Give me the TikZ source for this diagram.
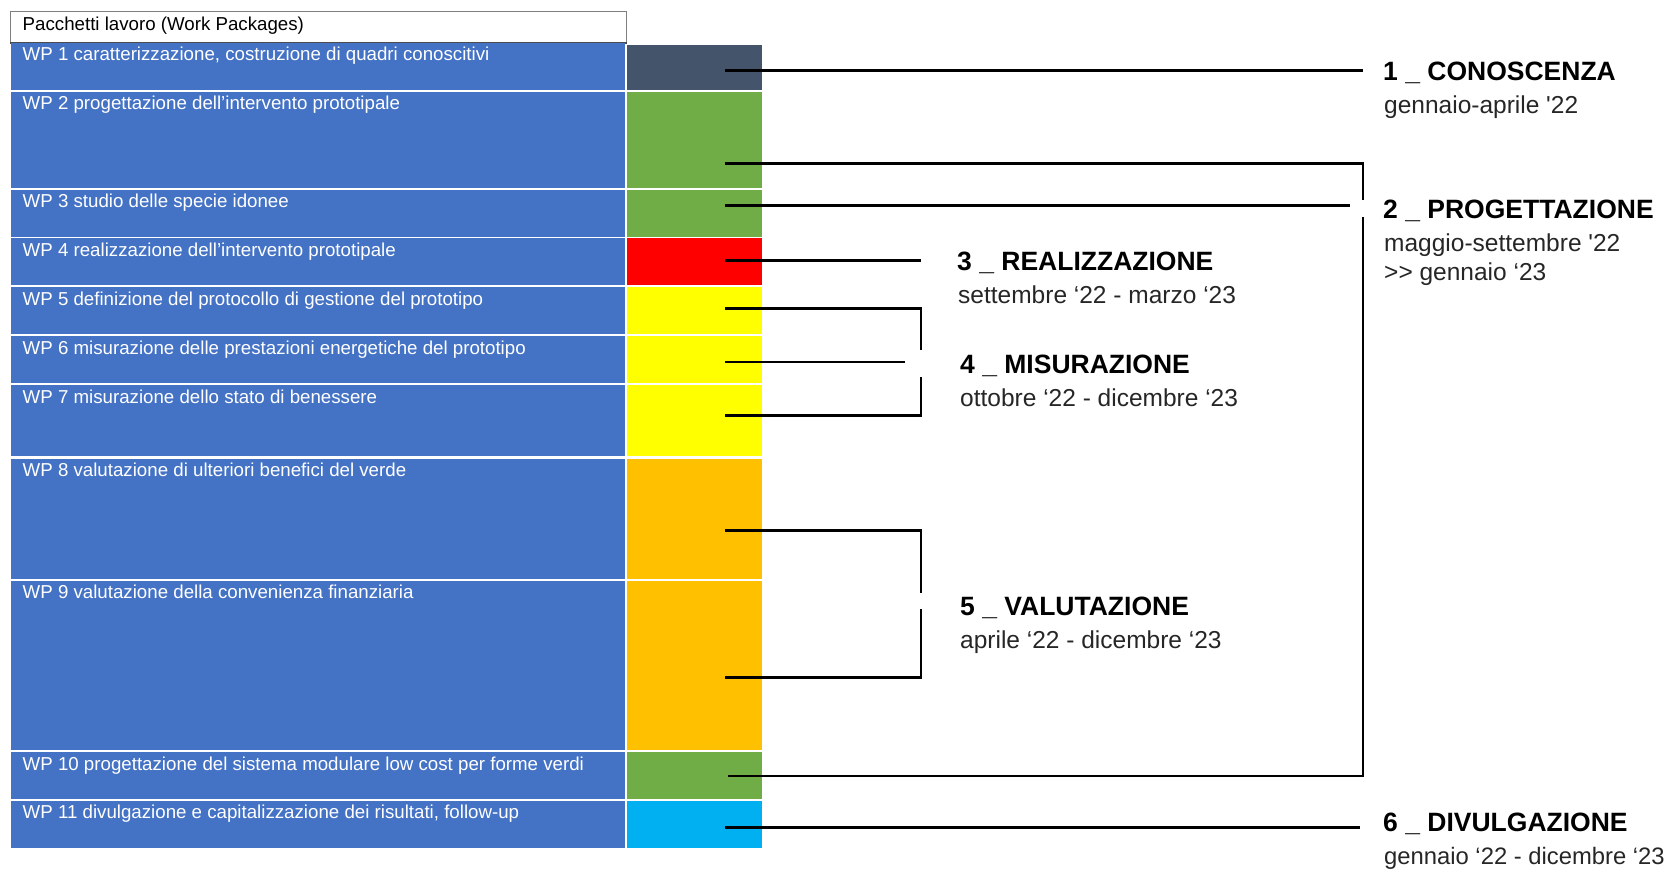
\documentclass[tikz,border=0pt]{standalone}
\usepackage{fontspec}
\setmainfont{Liberation Sans}
\usetikzlibrary{calc}
\definecolor{wpblue}{HTML}{4472C4}
\definecolor{cdark}{HTML}{44546A}
\definecolor{cgreen}{HTML}{70AD47}
\definecolor{cred}{HTML}{FF0000}
\definecolor{cyellow}{HTML}{FFFF00}
\definecolor{corange}{HTML}{FFC000}
\definecolor{ccyan}{HTML}{00B0F0}
\definecolor{hdrline}{HTML}{7F7F7F}
\tikzset{
  wpcell/.style={fill=wpblue, draw=none, inner sep=0pt, anchor=north west, minimum width=614pt},
  colcell/.style={draw=none, inner sep=0pt, anchor=north west, minimum width=135pt},
  wptext/.style={inner sep=0pt, anchor=base west, text=white, font=\fontsize{18.7}{22}\selectfont},
  hdrtext/.style={inner sep=0pt, anchor=base west, text=black, font=\fontsize{18.7}{22}\selectfont},
  ttl/.style={inner sep=0pt, anchor=base west, text=black, font=\fontsize{26.5}{30}\selectfont\bfseries},
  sub/.style={inner sep=0pt, anchor=base west, text=black!85, font=\fontsize{24.5}{30}\selectfont},
  conn/.style={draw=black, line width=2.6pt, line join=miter}
}
\begin{document}
\begin{tikzpicture}[x=1pt,y=-1pt]
\useasboundingbox (0,0) rectangle (1667,870);
% header
\node[draw=hdrline, line width=1.3pt, fill=white, inner sep=0pt, anchor=north west,
      minimum width=616pt, minimum height=31pt] (hdr) at (10,10.7) {};
\draw[black!70, line width=1.3pt] (hdr.south west) -- (hdr.south east);
\node[hdrtext] (hdrt) at (22.5,30) {Pacchetti lavoro (Work Packages)};
% rows: index/top/height/colour top/colour height/color/text
\foreach \i/\t/\h/\ct/\ch/\c/\txt in {
  1/42.5/47.5/44.3/45.7/cdark/{WP 1 caratterizzazione, costruzione di quadri conoscitivi},
  2/91.7/95.8/91.7/95.8/cgreen/{WP 2 progettazione dell’intervento prototipale},
  3/189.3/47/189.3/47/cgreen/{WP 3 studio delle specie idonee},
  4/238/47/238/47/cred/{WP 4 realizzazione dell’intervento prototipale},
  5/287/47/287/47/cyellow/{WP 5 definizione del protocollo di gestione del prototipo},
  6/336/47/336/47/cyellow/{WP 6 misurazione delle prestazioni energetiche del prototipo},
  7/385/71/385/71/cyellow/{WP 7 misurazione dello stato di benessere},
  8/458.3/120/458.3/120/corange/{WP 8 valutazione di ulteriori benefici del verde},
  9/580.5/169.5/580.5/169.5/corange/{WP 9 valutazione della convenienza finanziaria},
  10/752/47/752/47/cgreen/{WP 10 progettazione del sistema modulare low cost per forme verdi},
  11/800.7/46.6/800.7/46.6/ccyan/{WP 11 divulgazione e capitalizzazione dei risultati, follow-up}}{
  \node[wpcell, minimum height=\h pt] (w\i) at (11,\t) {};
  \node[colcell, fill=\c, minimum height=\ch pt] (c\i) at (627,\ct) {};
  \node[wptext] (t\i) at (22.5,\t+18) {\txt};
}
% labels
\node[ttl] (l1) at (1383,80) {1 \_ CONOSCENZA};
\node[sub] (l1d) at (1384,113.5) {gennaio-aprile \textquotesingle22};
\node[ttl] (l2) at (1383,218) {2 \_ PROGETTAZIONE};
\node[sub] (l2d) at (1384,251) {maggio-settembre \textquotesingle22};
\node[sub] (l2e) at (1384,280) {>{}> gennaio ‘23};
\node[ttl] (l3) at (957,270.5) {3 \_ REALIZZAZIONE};
\node[sub] (l3d) at (958,303.5) {settembre ‘22 - marzo ‘23};
\node[ttl] (l4) at (960,373) {4 \_ MISURAZIONE};
\node[sub] (l4d) at (960,406.5) {ottobre ‘22 - dicembre ‘23};
\node[ttl] (l5) at (960,615) {5 \_ VALUTAZIONE};
\node[sub] (l5d) at (960,648.5) {aprile ‘22 - dicembre ‘23};
\node[ttl] (l6) at (1383,831.5) {6 \_ DIVULGAZIONE};
\node[sub, font=\fontsize{23.8}{30}\selectfont] (l6d) at (1384,864) {gennaio ‘22 - dicembre ‘23};
% connector points
\coordinate (s1) at (725,70.7);   \coordinate (e1) at (1363,70.7);
\coordinate (s2) at (725,163.3);  \coordinate (k2a) at (1363,163.3); \coordinate (k2b) at (1363,200);
\coordinate (k2c) at (1363,217);  \coordinate (k2d) at (1363,776);  \coordinate (s10) at (728,776);
\coordinate (s3) at (725,205.7);  \coordinate (e3) at (1350,205.7);
\coordinate (s4) at (725,260.3);  \coordinate (e4) at (921,260.3);
\coordinate (s5) at (725,308.3);  \coordinate (k5a) at (921,308.3); \coordinate (k5b) at (921,350);
\coordinate (k7a) at (921,377);   \coordinate (k7b) at (921,415.3); \coordinate (s7) at (725,415.3);
\coordinate (s6) at (725,362);    \coordinate (e6) at (905,362);
\coordinate (s8) at (725,530.3);  \coordinate (k8a) at (921,530.3); \coordinate (k8b) at (921,593);
\coordinate (k9a) at (921,609);   \coordinate (k9b) at (921,677.3); \coordinate (s9) at (725,677.3);
\coordinate (s11) at (725,827.3); \coordinate (e11) at (1360,827.3);
% connectors
\draw[conn] (s1) -- (e1);
\draw[conn] (s2) -- (k2a) -- (k2b);
\draw[conn] (k2c) -- (k2d) -- (s10);
\draw[conn] (s3) -- (e3);
\draw[conn] (s4) -- (e4);
\draw[conn] (s5) -- (k5a) -- (k5b);
\draw[conn] (k7a) -- (k7b) -- (s7);
\draw[conn] (s6) -- (e6);
\draw[conn] (s8) -- (k8a) -- (k8b);
\draw[conn] (k9a) -- (k9b) -- (s9);
\draw[conn] (s11) -- (e11);
\end{tikzpicture}
\end{document}
